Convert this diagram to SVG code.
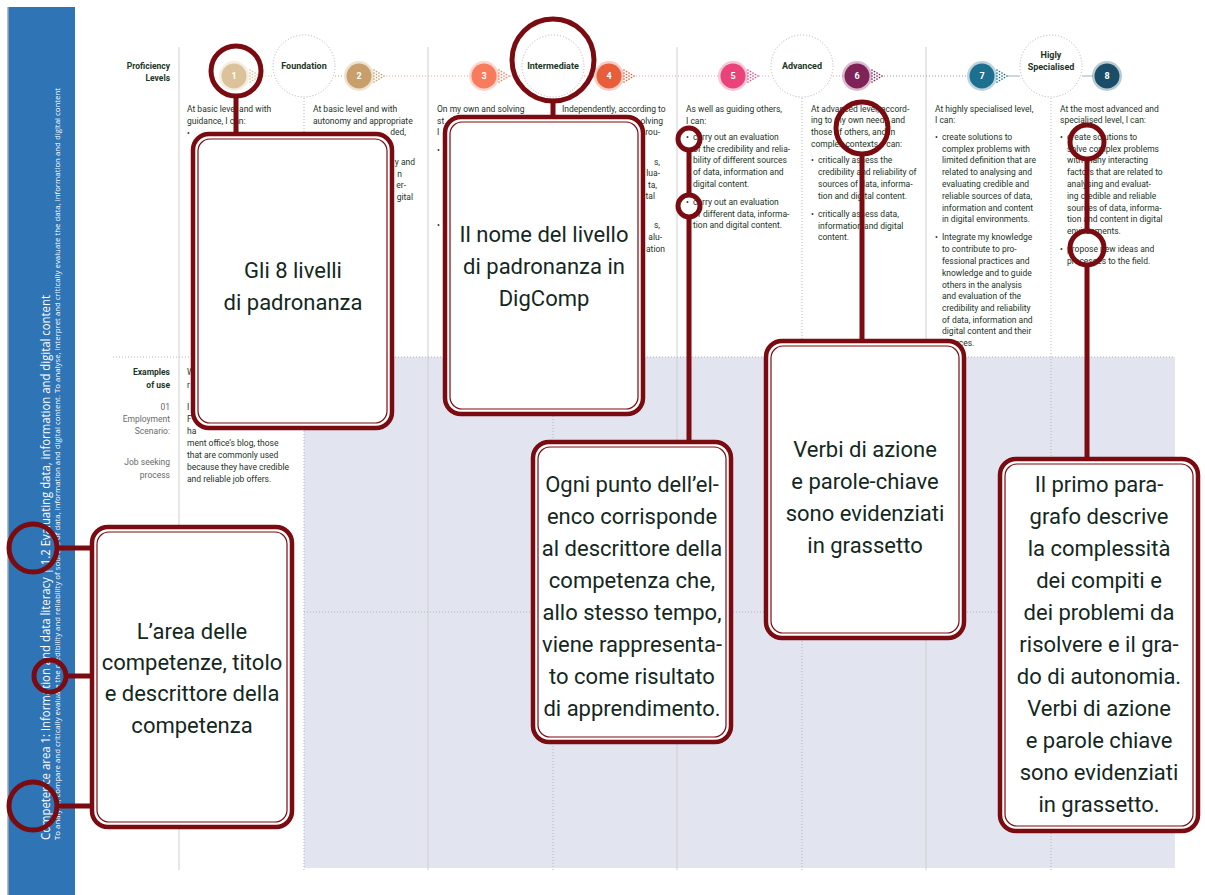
<svg xmlns="http://www.w3.org/2000/svg" xmlns:xlink="http://www.w3.org/1999/xlink" width="1205" height="895" viewBox="0 0 1205 895">
<style>
.t{font-family:Roboto,"Liberation Sans",sans-serif;font-size:8.5px;fill:#1d3526}
.b{font-weight:bold}
.r{text-anchor:end}
.g{fill:#6a6a6a}
.num{font-family:Roboto,"Liberation Sans",sans-serif;font-size:9px;font-weight:bold;fill:#fff;text-anchor:middle}
.lvl{font-family:Roboto,"Liberation Sans",sans-serif;font-size:9px;font-weight:bold;fill:#1d3526;text-anchor:middle}
.call{font-family:Roboto,"Liberation Sans",sans-serif;font-size:22px;fill:#14281e;text-anchor:middle}
.bo{fill:#fff;stroke:#7a0b10;stroke-width:4.5}
.bi{fill:none;stroke:#7a0b10;stroke-width:1.2}
.ring{fill:none;stroke:#7a0b10;stroke-width:5}
.conn{stroke:#7a0b10;stroke-width:5;fill:none}
.vl{stroke:#cfcfcf;stroke-width:1}
.vd{stroke:#b5b5b5;stroke-width:1;stroke-dasharray:1 2}
.dc{fill:#fff;stroke:#b0b0b0;stroke-width:1;stroke-dasharray:1 2}
.side{font-family:"Open Sans","Liberation Sans",sans-serif;fill:#fff}
</style>
<defs>
<g id="arr">
<circle cx="0" cy="-6" r="0.85"/><circle cx="0" cy="-3" r="0.85"/><circle cx="0" cy="0" r="0.85"/><circle cx="0" cy="3" r="0.85"/><circle cx="0" cy="6" r="0.85"/>
<circle cx="2.5" cy="-4.5" r="0.85"/><circle cx="2.5" cy="-1.5" r="0.85"/><circle cx="2.5" cy="1.5" r="0.85"/><circle cx="2.5" cy="4.5" r="0.85"/>
<circle cx="5" cy="-3" r="0.85"/><circle cx="5" cy="0" r="0.85"/><circle cx="5" cy="3" r="0.85"/>
<circle cx="7.5" cy="-1.5" r="0.85"/><circle cx="7.5" cy="1.5" r="0.85"/>
<circle cx="10" cy="0" r="0.85"/>
</g>
</defs>
<rect width="1205" height="895" fill="#fff"/>

<g id="sidebar">
<rect x="8" y="7" width="67" height="888" fill="#2f74b5"/>
<line x1="8" y1="7" x2="8" y2="895" stroke="#9aa6b4" stroke-width="1.5"/>
<text class="side" font-size="12" transform="translate(50,840) rotate(-90)" textLength="545" lengthAdjust="spacingAndGlyphs">Competence area 1: Information and data literacy | 1.2 Evaluating data, information and digital content</text>
<text class="side" font-size="7" transform="translate(60,840) rotate(-90)" textLength="752" lengthAdjust="spacingAndGlyphs">To analyse, compare and critically evaluate the credibility and reliability of sources of data, information and digital content. To analyse, interpret and critically evaluate the data, information and digital content</text>
</g>

<g id="grid">
<rect x="304" y="357" width="871" height="511" fill="#e2e5ef"/>
<line class="vl" x1="179" y1="47" x2="179" y2="870"/>
<line class="vl" x1="428" y1="47" x2="428" y2="870"/>
<line class="vl" x1="677" y1="47" x2="677" y2="870"/>
<line class="vl" x1="926" y1="47" x2="926" y2="870"/>
<line class="vd" x1="304" y1="98" x2="304" y2="870"/>
<line class="vd" x1="553" y1="98" x2="553" y2="870"/>
<line class="vd" x1="802" y1="98" x2="802" y2="870"/>
<line class="vd" x1="1051" y1="98" x2="1051" y2="870"/>
<line class="vd" x1="113" y1="357" x2="1175" y2="357"/>
<line class="vd" x1="304" y1="612" x2="1175" y2="612"/>
</g>

<g id="header">
<text class="t b r" x="170" y="69" font-size="9">Proficiency</text>
<text class="t b r" x="170" y="81" font-size="9">Levels</text>
<g stroke-width="1" stroke-dasharray="1 2">
<line x1="262" y1="76" x2="273" y2="76" stroke="#dcc29a"/>
<line x1="335" y1="76" x2="344" y2="76" stroke="#c89e6a"/>
<line x1="386" y1="76" x2="470" y2="76" stroke="#f0a88e"/>
<line x1="510" y1="76" x2="521" y2="76" stroke="#f0a88e"/>
<line x1="584" y1="76" x2="595" y2="76" stroke="#eb9a80"/>
<line x1="636" y1="76" x2="719" y2="76" stroke="#f0a0b8"/>
<line x1="759" y1="76" x2="771" y2="76" stroke="#f0a0b8"/>
<line x1="833" y1="76" x2="843" y2="76" stroke="#e89ab8"/>
<line x1="884" y1="76" x2="968" y2="76" stroke="#b68aa6"/>
</g>
<line x1="1008" y1="76" x2="1020" y2="76" stroke="#9ab0c4" stroke-width="1"/>
<line x1="1082" y1="76" x2="1093" y2="76" stroke="#9ab0c4" stroke-width="1"/>
<circle class="dc" cx="304" cy="66" r="31"/>
<circle class="dc" cx="553" cy="66" r="31"/>
<circle class="dc" cx="802" cy="66" r="31"/>
<circle class="dc" cx="1051" cy="66" r="31"/>
<text class="lvl" x="304" y="69">Foundation</text>
<text class="lvl" x="553" y="69">Intermediate</text>
<text class="lvl" x="802" y="69">Advanced</text>
<text class="lvl" x="1051" y="58">Higly</text>
<text class="lvl" x="1051" y="70">Specialised</text>
<g id="lv1"><circle cx="234" cy="76" r="15" fill="#dcc29a" opacity="0.3"/><circle cx="234" cy="76" r="12.5" fill="#dcc29a"/><text class="num" x="234" y="79">1</text><use href="#arr" x="250" y="76" fill="#dcc29a"/></g>
<g id="lv2"><circle cx="359" cy="76" r="15" fill="#c89e6a" opacity="0.3"/><circle cx="359" cy="76" r="12.5" fill="#c89e6a"/><text class="num" x="359" y="79">2</text><use href="#arr" x="374" y="76" fill="#c89e6a"/></g>
<g id="lv3"><circle cx="484" cy="76" r="15" fill="#f77b5c" opacity="0.3"/><circle cx="484" cy="76" r="12.5" fill="#f77b5c"/><text class="num" x="484" y="79">3</text><use href="#arr" x="499" y="76" fill="#f77b5c"/></g>
<g id="lv4"><circle cx="609" cy="76" r="15" fill="#e85d3a" opacity="0.3"/><circle cx="609" cy="76" r="12.5" fill="#e85d3a"/><text class="num" x="609" y="79">4</text><use href="#arr" x="624" y="76" fill="#e85d3a"/></g>
<g id="lv5"><circle cx="733" cy="76" r="15" fill="#e9437a" opacity="0.3"/><circle cx="733" cy="76" r="12.5" fill="#e9437a"/><text class="num" x="733" y="79">5</text><use href="#arr" x="748" y="76" fill="#e9437a"/></g>
<g id="lv6"><circle cx="857" cy="76" r="15" fill="#7e2258" opacity="0.3"/><circle cx="857" cy="76" r="12.5" fill="#7e2258"/><text class="num" x="857" y="79">6</text><use href="#arr" x="872" y="76" fill="#7e2258"/></g>
<g id="lv7"><circle cx="982" cy="76" r="15" fill="#1d6f90" opacity="0.3"/><circle cx="982" cy="76" r="12.5" fill="#1d6f90"/><text class="num" x="982" y="79">7</text><use href="#arr" x="997" y="76" fill="#1d6f90"/></g>
<g id="lv8"><circle cx="1107" cy="76" r="15" fill="#1a4e68" opacity="0.3"/><circle cx="1107" cy="76" r="12.5" fill="#1a4e68"/><text class="num" x="1107" y="79">8</text></g>
</g>

<g id="descriptors">
<text class="t" x="187" y="112">At basic level and with</text>
<text class="t" x="187" y="124">guidance, I can:</text>
<text class="t" x="187" y="136">•</text>

<text class="t" x="313" y="112">At basic level and with</text>
<text class="t" x="313" y="124">autonomy and appropriate</text>
<text class="t r" x="406" y="135">ded,</text>
<text class="t r" x="415" y="165">y and</text>
<text class="t r" x="402" y="177">n</text>
<text class="t r" x="406" y="188">er-</text>
<text class="t r" x="413" y="200">gital</text>

<text class="t" x="437" y="112">On my own and solving</text>
<text class="t" x="437" y="124">st</text>
<text class="t" x="437" y="135">I</text>
<text class="t" x="437" y="153">•</text>
<text class="t" x="437" y="228">•</text>

<text class="t" x="562" y="112">Independently, according to</text>
<text class="t r" x="663" y="124">olving</text>
<text class="t r" x="660" y="135">rou-</text>
<text class="t r" x="660" y="165">s,</text>
<text class="t r" x="660" y="176">lua-</text>
<text class="t r" x="657" y="188">ta,</text>
<text class="t r" x="655" y="199">tal</text>
<text class="t r" x="660" y="228">s,</text>
<text class="t r" x="662" y="240">alu-</text>
<text class="t r" x="665" y="252">ation</text>

<text class="t" x="686" y="112">As well as guiding others,</text>
<text class="t" x="686" y="124">I can:</text>
<text class="t" x="686" y="140">•</text><text class="t" x="693" y="140">carry out an evaluation</text>
<text class="t" x="693" y="152">of the credibility and relia-</text>
<text class="t" x="693" y="163">bility of different sources</text>
<text class="t" x="693" y="175">of data, information and</text>
<text class="t" x="693" y="187">digital content.</text>
<text class="t" x="686" y="205">•</text><text class="t" x="693" y="205">carry out an evaluation</text>
<text class="t" x="693" y="217">of different data, informa-</text>
<text class="t" x="693" y="228">tion and digital content.</text>

<text class="t" x="811" y="112">At advanced level, accord-</text>
<text class="t" x="811" y="123">ing to my own needs and</text>
<text class="t" x="811" y="135">those of others, and in</text>
<text class="t" x="811" y="147">complex contexts, I can:</text>
<text class="t" x="811" y="163">•</text><text class="t" x="818" y="163">critically assess the</text>
<text class="t" x="818" y="175">credibility and reliability of</text>
<text class="t" x="818" y="187">sources of data, informa-</text>
<text class="t" x="818" y="199">tion and digital content.</text>
<text class="t" x="811" y="217">•</text><text class="t" x="818" y="217">critically assess data,</text>
<text class="t" x="818" y="229">information and digital</text>
<text class="t" x="818" y="240">content.</text>

<text class="t" x="935" y="112">At highly specialised level,</text>
<text class="t" x="935" y="123">I can:</text>
<text class="t" x="935" y="140">•</text><text class="t" x="942" y="140">create solutions to</text>
<text class="t" x="942" y="152">complex problems with</text>
<text class="t" x="942" y="163">limited definition that are</text>
<text class="t" x="942" y="175">related to analysing and</text>
<text class="t" x="942" y="187">evaluating credible and</text>
<text class="t" x="942" y="199">reliable sources of data,</text>
<text class="t" x="942" y="211">information and content</text>
<text class="t" x="942" y="222">in digital environments.</text>
<text class="t" x="935" y="240">•</text><text class="t" x="942" y="240">Integrate my knowledge</text>
<text class="t" x="942" y="252">to contribute to pro-</text>
<text class="t" x="942" y="264">fessional practices and</text>
<text class="t" x="942" y="276">knowledge and to guide</text>
<text class="t" x="942" y="288">others in the analysis</text>
<text class="t" x="942" y="299">and evaluation of the</text>
<text class="t" x="942" y="311">credibility and reliability</text>
<text class="t" x="942" y="323">of data, information and</text>
<text class="t" x="942" y="334">digital content and their</text>
<text class="t" x="942" y="346">sources.</text>

<text class="t" x="1060" y="112">At the most advanced and</text>
<text class="t" x="1060" y="123">specialised level, I can:</text>
<text class="t" x="1060" y="140">•</text><text class="t" x="1067" y="140">create solutions to</text>
<text class="t" x="1067" y="152">solve complex problems</text>
<text class="t" x="1067" y="163">with many interacting</text>
<text class="t" x="1067" y="175">factors that are related to</text>
<text class="t" x="1067" y="187">analysing and evaluat-</text>
<text class="t" x="1067" y="199">ing credible and reliable</text>
<text class="t" x="1067" y="211">sources of data, informa-</text>
<text class="t" x="1067" y="222">tion and content in digital</text>
<text class="t" x="1067" y="234">environments.</text>
<text class="t" x="1060" y="252">•</text><text class="t" x="1067" y="252">propose new ideas and</text>
<text class="t" x="1067" y="264">processes to the field.</text>
</g>

<g id="examples">
<text class="t b r" x="170" y="375" font-size="9">Examples</text>
<text class="t b r" x="170" y="388" font-size="9">of use</text>
<text class="t g r" x="170" y="410">01</text>
<text class="t g r" x="170" y="422">Employment</text>
<text class="t g r" x="170" y="434">Scenario:</text>
<text class="t g r" x="170" y="465">Job seeking</text>
<text class="t g r" x="170" y="478">process</text>
<text class="t" x="187" y="375">W</text>
<text class="t" x="187" y="388">r</text>
<text class="t" x="187" y="410">I</text>
<text class="t" x="187" y="422">F</text>
<text class="t" x="187" y="434">ha</text>
<text class="t" x="187" y="446">ment office’s blog, those</text>
<text class="t" x="187" y="458">that are commonly used</text>
<text class="t" x="187" y="470">because they have credible</text>
<text class="t" x="187" y="482">and reliable job offers.</text>
</g>

<g id="connectors">
<circle class="ring" cx="236" cy="71" r="25"/>
<line class="conn" x1="236" y1="96" x2="236" y2="134"/>
<circle class="ring" cx="553" cy="60" r="41"/>
<line class="conn" x1="553" y1="101" x2="553" y2="117"/>
<circle class="ring" cx="689" cy="139" r="11"/>
<circle class="ring" cx="689" cy="206" r="11"/>
<line class="conn" x1="689" y1="150" x2="689" y2="195"/>
<line class="conn" x1="689" y1="217" x2="689" y2="442"/>
<circle class="ring" cx="862" cy="128" r="26"/>
<line class="conn" x1="862" y1="154" x2="862" y2="341"/>
<circle class="ring" cx="1087" cy="142" r="17"/>
<circle class="ring" cx="1087" cy="248" r="17"/>
<line class="conn" x1="1087" y1="159" x2="1087" y2="231"/>
<line class="conn" x1="1087" y1="265" x2="1087" y2="459"/>
<circle class="ring" cx="33" cy="548" r="24"/>
<circle class="ring" cx="50" cy="676" r="16"/>
<circle class="ring" cx="33" cy="806" r="24"/>
<line class="conn" x1="57" y1="548" x2="92" y2="548"/>
<line class="conn" x1="66" y1="676" x2="92" y2="676"/>
<line class="conn" x1="57" y1="806" x2="92" y2="806"/>
</g>

<g id="callout-levels">
<rect class="bo" x="193" y="134" width="199" height="294" rx="16"/>
<rect class="bi" x="198" y="139" width="189" height="284" rx="12"/>
<text class="call" x="293" y="278">Gli 8 livelli</text>
<text class="call" x="293" y="310">di padronanza</text>
</g>
<g id="callout-name">
<rect class="bo" x="445" y="117" width="198" height="297" rx="16"/>
<rect class="bi" x="450" y="122" width="188" height="287" rx="12"/>
<text class="call" x="544" y="242">Il nome del livello</text>
<text class="call" x="544" y="274">di padronanza in</text>
<text class="call" x="544" y="306">DigComp</text>
</g>
<g id="callout-points">
<rect class="bo" x="533" y="442" width="198" height="300" rx="16"/>
<rect class="bi" x="538" y="447" width="188" height="290" rx="12"/>
<text class="call" x="632" y="492">Ogni punto dell’el-</text>
<text class="call" x="632" y="524">enco corrisponde</text>
<text class="call" x="632" y="556">al descrittore della</text>
<text class="call" x="632" y="588">competenza che,</text>
<text class="call" x="632" y="620">allo stesso tempo,</text>
<text class="call" x="632" y="652">viene rappresenta-</text>
<text class="call" x="632" y="684">to come risultato</text>
<text class="call" x="632" y="716">di apprendimento.</text>
</g>
<g id="callout-verbs">
<rect class="bo" x="766" y="341" width="198" height="297" rx="16"/>
<rect class="bi" x="771" y="346" width="188" height="287" rx="12"/>
<text class="call" x="865" y="457">Verbi di azione</text>
<text class="call" x="865" y="489">e parole-chiave</text>
<text class="call" x="865" y="521">sono evidenziati</text>
<text class="call" x="865" y="553">in grassetto</text>
</g>
<g id="callout-paragraph">
<rect class="bo" x="1000" y="459" width="198" height="372" rx="16"/>
<rect class="bi" x="1005" y="464" width="188" height="362" rx="12"/>
<text class="call" x="1099" y="492">Il primo para-</text>
<text class="call" x="1099" y="524">grafo descrive</text>
<text class="call" x="1099" y="556">la complessità</text>
<text class="call" x="1099" y="588">dei compiti e</text>
<text class="call" x="1099" y="620">dei problemi da</text>
<text class="call" x="1099" y="652">risolvere e il gra-</text>
<text class="call" x="1099" y="684">do di autonomia.</text>
<text class="call" x="1099" y="716">Verbi di azione</text>
<text class="call" x="1099" y="748">e parole chiave</text>
<text class="call" x="1099" y="780">sono evidenziati</text>
<text class="call" x="1099" y="812">in grassetto.</text>
</g>
<g id="callout-area">
<rect class="bo" x="92" y="527" width="200" height="300" rx="16"/>
<rect class="bi" x="97" y="532" width="190" height="290" rx="12"/>
<text class="call" x="192" y="639">L’area delle</text>
<text class="call" x="192" y="670">competenze, titolo</text>
<text class="call" x="192" y="701">e descrittore della</text>
<text class="call" x="192" y="733">competenza</text>
</g>
</svg>
